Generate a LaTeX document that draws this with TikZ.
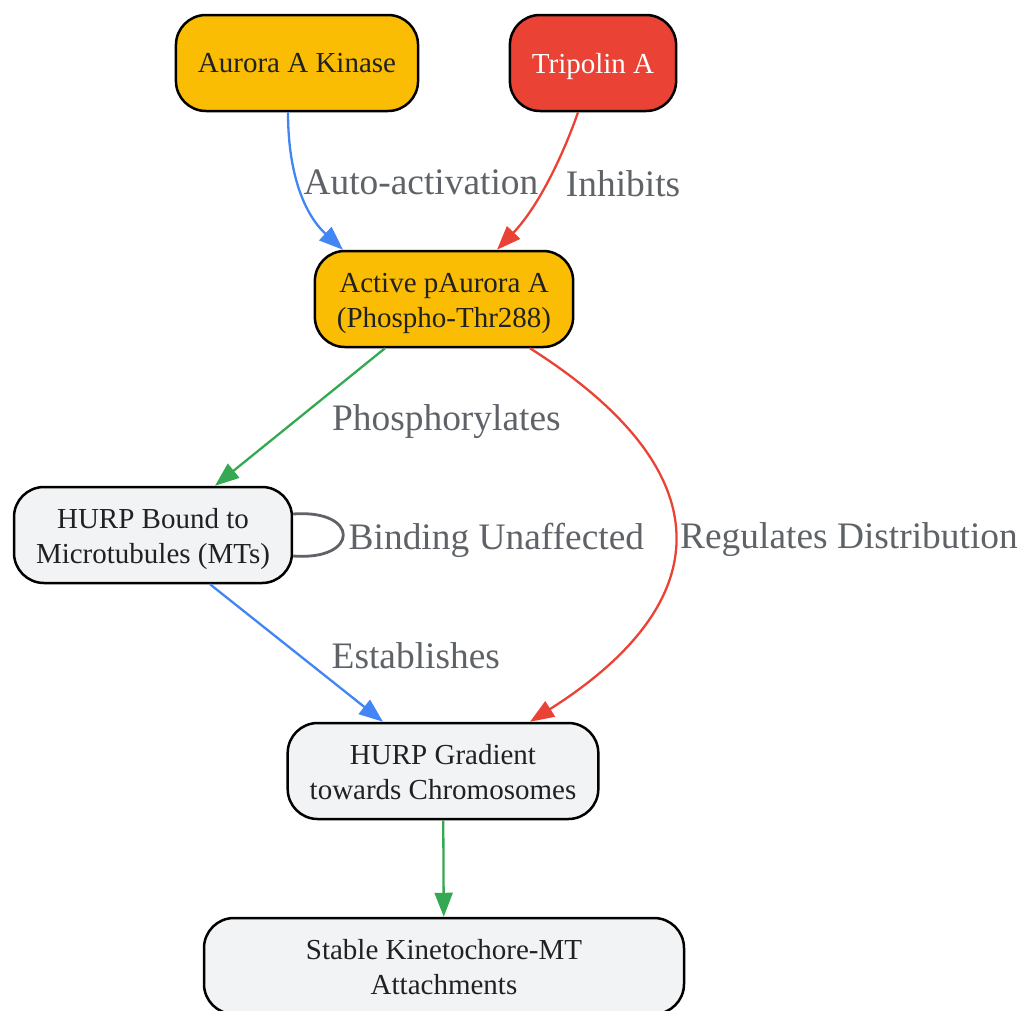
\documentclass[tikz,border=0pt]{standalone}
\usepackage{fontspec}
\setmainfont{Liberation Serif}
\usetikzlibrary{arrows.meta}
\usetikzlibrary{positioning}
\definecolor{gYellow}{HTML}{FBBC04}
\definecolor{gRed}{HTML}{EA4335}
\definecolor{gBlue}{HTML}{4285F4}
\definecolor{gGreen}{HTML}{34A853}
\definecolor{gLight}{HTML}{F1F3F4}
\definecolor{gText}{HTML}{202124}
\definecolor{gLabel}{HTML}{5F6368}
% two lines with fixed struts, so every box sets them alike
\newcommand{\twoline}[2]{\rule{0pt}{32pt}#1\\#2\rule[-10pt]{0pt}{10pt}}
\tikzset{
    box/.style={
        draw=black,
        line width=2.5pt,
        rounded corners=30pt,
        minimum height=96pt,
        inner xsep=22pt,
        align=center,
        text=gText,
        font=\fontsize{29}{35}\selectfont},
    kinase/.style={box,fill=gYellow},
    drug/.style={box,fill=gRed,text=white,text depth=0pt},
    hurp/.style={box,fill=gLight},
    link/.style={
        line width=2.3pt,
        -{Triangle[length=24pt,width=18pt]}},
    lbl/.style={
        text=gLabel,
        inner sep=0pt,
        anchor=west,
        yshift=-5pt,
        font=\fontsize{37.4}{41}\selectfont}}

\begin{document}
\begin{tikzpicture}[x=1pt,y=-1pt]
        \useasboundingbox (0,0) rectangle (1019,1010);

        \node[kinase] (aurora) at (297,63) {Aurora A Kinase};
        \node[drug] (tripolin) at (593,63) {Tripolin A};
        \node[kinase] (paurora) at (444,299) {\twoline{Active pAurora A}{(Phospho-Thr288)}};
        \node[hurp] (bound) at (153,535) {\twoline{HURP Bound to}{Microtubules (MTs)}};
        \node[hurp] (gradient) at (443,771) {\twoline{HURP Gradient}{towards Chromosomes}};
        \node[hurp,minimum width=480pt] (stable) at (444,966) {\twoline{Stable Kinetochore-MT}{Attachments}};

        \draw[link,gBlue] ([xshift=-9pt]aurora.south) .. controls (288,175) and (305,215) .. ([xshift=-101pt]paurora.north)
            node[lbl,pos=.4,xshift=6pt] {Auto-activation};
        \draw[link,gRed] ([xshift=-15pt]tripolin.south) .. controls (565,150) and (540,205) .. ([xshift=53pt]paurora.north)
            node[lbl,pos=.5,xshift=16pt] {Inhibits};
        \draw[link,gGreen] ([xshift=-59pt]paurora.south) -- ([xshift=62pt]bound.north)
            node[lbl,midway,xshift=31pt] {Phosphorylates};
        \draw[line width=2.8pt,gLabel] ([yshift=21pt]bound.east) .. controls (360,509) and (360,561) .. ([yshift=-21pt]bound.east)
            node[lbl,midway,xshift=4pt] {Binding Unaffected};
        \draw[link,gRed] ([xshift=86pt]paurora.south) .. controls (722,470) and (722,600) .. ([xshift=87pt]gradient.north)
            node[lbl,midway,xshift=5pt] {Regulates Distribution};
        \draw[link,gBlue] ([xshift=57pt]bound.south) -- ([xshift=-60pt]gradient.north)
            node[lbl,midway,xshift=34pt,yshift=2pt] {Establishes};
        \draw[link,gGreen] (gradient) -- (stable);
    \end{tikzpicture}
\end{document}
